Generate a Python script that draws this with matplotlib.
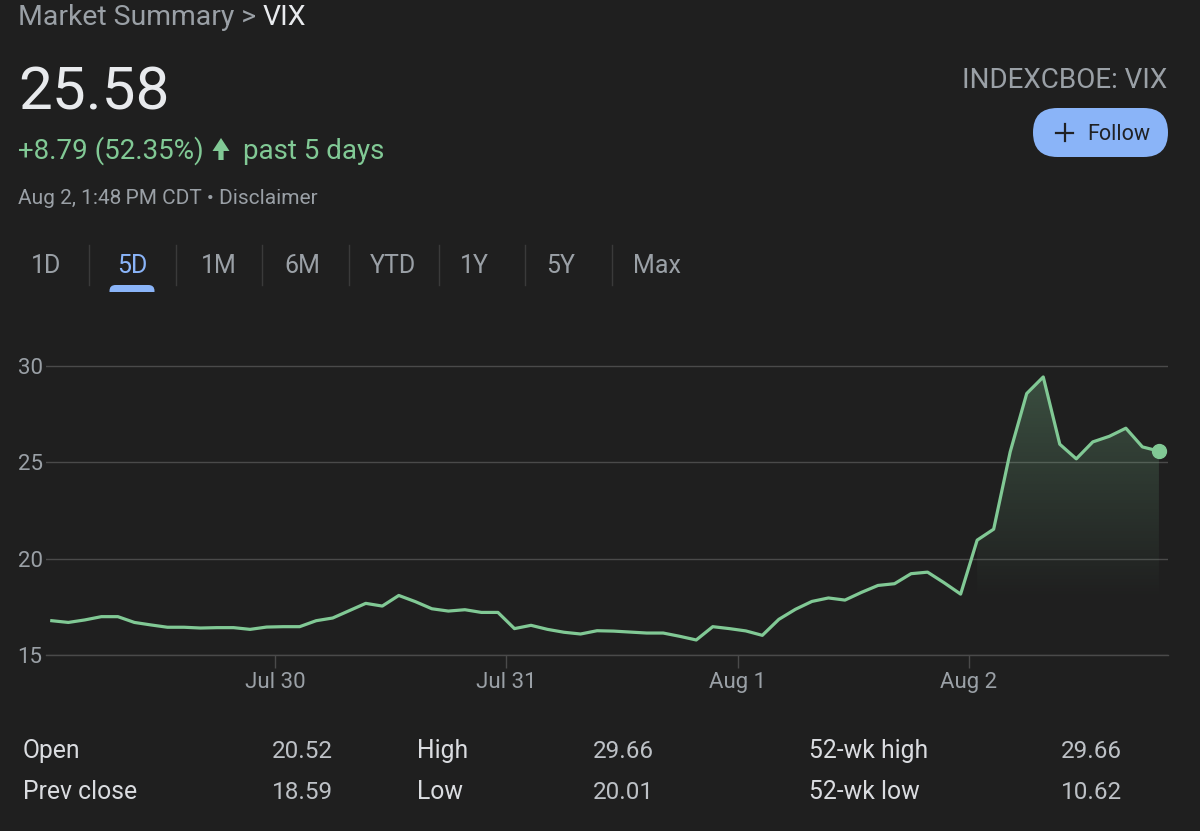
import numpy as np
import matplotlib
matplotlib.use("Agg")
import matplotlib.pyplot as plt
from matplotlib.transforms import Affine2D
from matplotlib.patches import FancyBboxPatch, Polygon, Rectangle
from matplotlib.lines import Line2D
from matplotlib.colors import to_rgb

plt.rcParams['font.family'] = ['Roboto', 'DejaVu Sans']

# ---------------- data ----------------
vix = [16.78, 16.69, 16.82, 16.99, 16.99, 16.69, 16.56, 16.44, 16.44, 16.40,
       16.42, 16.42, 16.33, 16.45, 16.47, 16.47, 16.78, 16.92, 17.30, 17.68,
       17.54, 18.09, 17.77, 17.40, 17.28, 17.35, 17.21, 17.21, 16.37, 16.54,
       16.33, 16.18, 16.09, 16.26, 16.24, 16.19, 16.14, 16.14, 15.97, 15.78,
       16.47, 16.37, 16.25, 16.02, 16.85, 17.37, 17.78, 17.96, 17.85, 18.25,
       18.61, 18.70, 19.22, 19.30, 18.75, 18.16, 20.96, 21.53, 25.54, 28.57,
       29.43, 25.94, 25.18, 26.06, 26.35, 26.77, 25.80, 25.58]
points_per_day = 14
day_labels = ['Jul 30', 'Jul 31', 'Aug 1', 'Aug 2']
y_ticks = [15, 20, 25, 30]

tabs = ['1D', '5D', '1M', '6M', 'YTD', '1Y', '5Y', 'Max']
selected_tab = '5D'

title_prefix = 'Market Summary > '
title_symbol = 'VIX'
price_text = '25.58'
change_text = '+8.79 (52.35%)'
period_text = 'past 5 days'
time_text = 'Aug 2, 1:48\u2009PM CDT \u2022 Disclaimer'
exchange_text = 'INDEXCBOE: VIX'
follow_text = 'Follow'

stat_labels_a = ['Open', 'Prev close']
stat_values_a = ['20.52', '18.59']
stat_labels_b = ['High', 'Low']
stat_values_b = ['29.66', '20.01']
stat_labels_c = ['52-wk high', '52-wk low']
stat_values_c = ['29.66', '10.62']

# ---------------- style ----------------
BG = '#1f1f1f'
GREEN = '#81c995'
BLUE = '#8ab4f8'
GREY = '#9aa0a6'
WHITE = '#e8eaed'
GRID = '#4a4a4a'
SEP = '#3a3a3a'

W, H = 1200, 831
fig = plt.figure(figsize=(W / 100, H / 100), dpi=100, facecolor=BG)
T = Affine2D().scale(1 / 100, -1 / 100).translate(0, H / 100) + fig.dpi_scale_trans


def ftxt(x, y, s, **kw):
    kw.setdefault('va', 'baseline')
    return fig.text(x, y, s, transform=T, **kw)


# ---------------- header ----------------
ftxt(18, 25, title_prefix, color=GREY, fontsize=20.4)
ftxt(263, 25, title_symbol, color=WHITE, fontsize=20.4)
ftxt(18, 110, price_text, color=WHITE, fontsize=43.5)
ftxt(18, 159, change_text, color=GREEN, fontsize=20)
# solid up arrow icon
arrow = [(221, 138), (229.5, 151), (223.6, 151), (223.6, 160), (218.4, 160),
         (218.4, 151), (212.5, 151)]
fig.patches.append(Polygon(arrow, closed=True, facecolor=GREEN, edgecolor='none',
                           transform=T))
ftxt(243, 159, period_text, color=GREEN, fontsize=20)
ftxt(18, 204, time_text, color=GREY, fontsize=15)
ftxt(1167, 88, exchange_text, color=GREY, fontsize=20, ha='right')

# follow button
fig.patches.append(FancyBboxPatch((1033, 108), 135, 49,
                                  boxstyle='round,pad=0,rounding_size=24.5',
                                  facecolor=BLUE, edgecolor='none', transform=T))
fig.lines.append(Line2D([1056, 1073], [132.5, 132.5], color='#202124', lw=1.6, transform=T))
fig.lines.append(Line2D([1064.5, 1064.5], [124, 141], color='#202124', lw=1.6, transform=T))
ftxt(1087, 139.5, follow_text, color='#202124', fontsize=15.5)

# ---------------- tabs ----------------
tab_centers = [46, 132, 218.5, 302, 393, 474, 560.5, 657]
for name, cx in zip(tabs, tab_centers):
    ftxt(cx, 273, name, color=BLUE if name == selected_tab else GREY,
         fontsize=18, ha='center')
for sx in [89, 176, 262, 349, 439, 525, 612]:
    fig.lines.append(Line2D([sx, sx], [245, 285], color=SEP, lw=1, transform=T))
sel = tab_centers[tabs.index(selected_tab)]
bar = FancyBboxPatch((sel - 22.5, 285), 45, 14, boxstyle='round,pad=0,rounding_size=6',
                     facecolor=BLUE, edgecolor='none', transform=T)
fig.patches.append(bar)
clip = Rectangle((sel - 30, 284), 60, 8, transform=T, facecolor='none', edgecolor='none')
bar.set_clip_path(clip)

# ---------------- chart ----------------
ax = fig.add_axes([46 / W, 1 - 655 / H, (1168 - 46) / W, (655 - 346.7) / H])
ax.set_facecolor(BG)
x = np.arange(len(vix))
yv = np.array(vix)
ax.plot(x, yv, color=GREEN, lw=2.3, solid_joinstyle='round', zorder=4)
ax.plot(x[-1], yv[-1], 'o', ms=10, color=GREEN, zorder=5)

# gradient area for the latest session
start = points_per_day * len(day_labels)
verts = [(x[start], 15)] + list(zip(x[start:], yv[start:])) + [(x[-1], 15)]
clip_poly = Polygon(verts, closed=True, facecolor='none', edgecolor='none',
                    transform=ax.transData)
ax.add_patch(clip_poly)
n = 300
vals = np.linspace(15, 31, n)
alpha = 0.28 * np.clip((vals - 17.8) / (29.5 - 17.8), 0, 1)
rgba = np.zeros((n, 1, 4))
rgba[..., :3] = to_rgb(GREEN)
rgba[..., 3] = alpha[:, None]
im = ax.imshow(rgba, extent=(x[start], x[-1], 15, 31), origin='lower',
               aspect='auto', interpolation='bilinear', zorder=2)
im.set_clip_path(clip_poly)

ax.set_xlim(-0.35, 67.55)
ax.set_ylim(15, 31)
ax.set_yticks(y_ticks)
ax.set_yticklabels([str(t) for t in y_ticks])
ax.grid(axis='y', color=GRID, lw=1, zorder=1)
day_pos = [points_per_day * (k + 1) - 0.5 for k in range(len(day_labels))]
ax.set_xticks(day_pos)
ax.set_xticklabels(day_labels)
ax.tick_params(axis='y', length=0, pad=2.5, labelsize=16, labelcolor=GREY)
ax.tick_params(axis='x', length=9.5, width=1, color=GRID, pad=3,
               labelsize=16, labelcolor=GREY)
for side in ['top', 'right', 'left']:
    ax.spines[side].set_visible(False)
ax.spines['bottom'].set_color(GRID)
ax.spines['bottom'].set_linewidth(1)
ax.set_axisbelow(True)

# ---------------- stats table ----------------
rows_y = [758, 799]
cols = [(23, 333, stat_labels_a, stat_values_a),
        (417, 654, stat_labels_b, stat_values_b),
        (809, 1122, stat_labels_c, stat_values_c)]
for lx, vx, labs, vals_ in cols:
    for ry, lab, val in zip(rows_y, labs, vals_):
        ftxt(lx, ry, lab, color='#dadce0', fontsize=17.8)
        ftxt(vx, ry, val, color='#bdc1c6', fontsize=17.5, ha='right')

fig.savefig('out.png', dpi=100, facecolor=BG)
